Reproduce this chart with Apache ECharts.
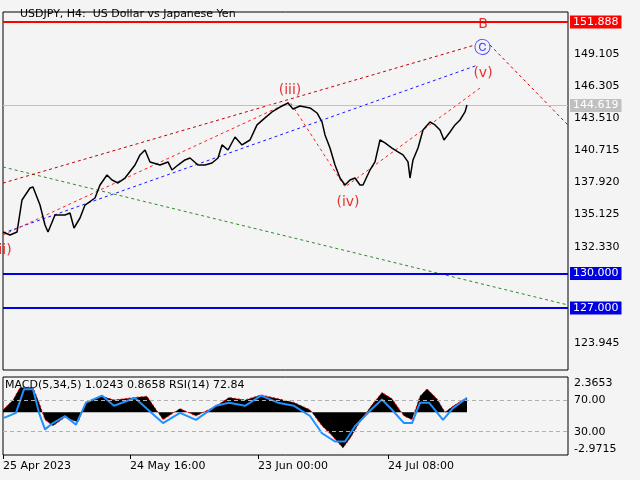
<!DOCTYPE html><html><head><meta charset="utf-8">
<script src="https://cdn.jsdelivr.net/npm/echarts@6/dist/echarts.min.js"></script>
<style>body{margin:0;background:#f4f4f4}#c{width:640px;height:480px}</style></head><body><div id="c"></div>
<script>
const priceIdx=[0,7,14,19,27,30,37,42,45,52,62,67,71,77,82,92,97,104,109,115,122,132,137,142,147,157,165,169,175,182,187,195,202,209,215,219,225,232,239,247,254,262,269,277,285,290,297,307,314,319,322,327,332,337,342,347,352,357,360,367,372,377,382,389,395,400,405,407,410,415,420,427,432,437,441,447,452,457,462,464];
const priceVal=[133.61,133.35,133.61,136.40,137.44,137.53,135.96,134.22,133.61,135.09,135.09,135.27,133.96,134.83,135.96,136.57,137.70,138.57,138.14,137.88,138.31,139.44,140.32,140.75,139.71,139.44,139.71,139.01,139.44,139.88,140.05,139.44,139.44,139.62,140.05,141.19,140.75,141.88,141.19,141.62,142.93,143.54,144.06,144.49,144.84,144.32,144.58,144.41,143.97,143.19,142.06,140.92,139.44,138.31,137.70,138.14,138.31,137.70,137.70,139.01,139.71,141.62,141.36,140.92,140.58,140.32,139.71,138.31,139.88,140.92,142.49,143.19,142.93,142.49,141.62,142.32,142.93,143.36,144.06,144.67];
const macdIdx=[0,10,17,30,36,42,50,62,75,83,99,111,132,144,160,177,193,213,226,242,258,275,291,307,319,328,340,348,356,368,379,389,401,409,417,424,434,442,450,464];
const macdVal=[0.2,1.0,2.0,2.0,0.8,-0.6,-1.1,-0.4,-0.8,0.8,1.3,1.0,1.2,1.3,-0.6,0.3,-0.3,0.5,1.2,1.0,1.4,1.1,0.8,0.2,-1.1,-1.8,-2.9,-2.0,-0.9,0.5,1.6,1.1,-0.3,-0.6,1.3,1.9,1.1,0.0,0.5,1.2];
const rsiIdx=[1,13,21,30,36,42,50,62,73,83,99,111,132,152,160,177,193,213,226,242,258,275,291,307,319,332,342,352,368,379,389,401,409,417,426,440,450,464];
const rsiVal=[47.6,54,84,84,54,33,41,50,39,67,76,63,73,50,41,54,45,63,67,63,76,67,63,50,28,17.5,17.5,37,58,71,58,41,41,67,67,45,60,73];
const xTickIdx=[0,127,255,385];
const xTickLabels=['25 Apr 2023','24 May 16:00','23 Jun 00:00','24 Jul 08:00'];
const yTicks=[123.945,127.000,130.000,132.330,135.125,137.920,140.715,143.510,146.305,149.105,151.888];
const levelRed=151.888, levelBlue=[130.000,127.000], lastPrice=144.619;
const upperRed=[[0,137.87],[472,149.89]];
const blueTrend=[[0,133.52],[475,148.15]];
const waveLine=[[0,133.35],[287,144.93],[342,137.53],[477,146.14]];
const bDown=[[487,149.89],[565,142.92]];
const greenTrend=[[0,139.27],[565,127.26]];
const waveLabels=[['(iii)',287,145.9,'#e00000'],['(iv)',345,136.2,'#e00000'],['(v)',480,147.4,'#e00000'],['ii)',2,132.0,'#e00000'],['B',480,151.7,'#e00000'],['ⓒ',479,149.6,'#1a1aff']];
const rsiLevels=[70,30], macdScale=[2.3653,-2.9715];

const F='DejaVu Sans';
const seg=(pts,color,w)=>({type:'line',xAxisIndex:0,yAxisIndex:0,data:pts,symbol:'none',silent:true,lineStyle:{color:color,width:w||1,type:[3,3]},z:3});
const hl=(v,color,w,bg)=>({yAxis:v,lineStyle:{color:color,width:w,type:'solid'},label:{show:true,position:'end',formatter:v.toFixed(3),color:'#fff',backgroundColor:bg,padding:[1,3],fontFamily:F,fontSize:11,distance:2}});
const yAx=(grid,min,max,vals,fmt)=>({gridIndex:grid,type:'value',position:'right',min:min,max:max,splitLine:{show:false},
  axisLine:{show:false,onZero:false},axisTick:{show:false},
  axisLabel:{customValues:vals,formatter:fmt,color:'#000',fontFamily:F,fontSize:11,margin:6}});
const chart=echarts.init(document.getElementById('c'));
chart.setOption({
 backgroundColor:'#f4f4f4',animation:false,
 title:{text:'USDJPY, H4:  US Dollar vs Japanese Yen',left:15,top:4,textStyle:{fontFamily:F,fontSize:11,fontWeight:'normal',color:'#000'}},
 grid:[{left:3,right:72,top:12,height:358,show:true,borderColor:'#000',borderWidth:1,backgroundColor:'#f4f4f4'},
       {left:3,right:72,top:377,height:78,show:true,borderColor:'#000',borderWidth:1,backgroundColor:'#f4f4f4'}],
 xAxis:[{gridIndex:0,type:'value',min:0,max:565,axisLine:{show:false,onZero:false},axisTick:{show:false},axisLabel:{show:false},splitLine:{show:false}},
        {gridIndex:1,type:'value',min:0,max:565,axisLine:{show:false,onZero:false},splitLine:{show:false},
         axisTick:{show:true,customValues:xTickIdx,length:4,lineStyle:{color:'#000'}},
         axisLabel:{customValues:xTickIdx,formatter:v=>xTickLabels[xTickIdx.indexOf(v)],align:'left',color:'#000',fontFamily:F,fontSize:11,margin:6}}],
 yAxis:[yAx(0,121.6,152.76,yTicks,v=>v.toFixed(3)),
        yAx(1,0.3,99.7,rsiLevels,v=>v.toFixed(2)),
        yAx(1,-3.464,2.858,macdScale,v=>v.toFixed(4))],
 series:[
  seg(greenTrend,'#2a8a2a'),seg(upperRed,'#c00000'),seg(blueTrend,'#1a1aff'),seg(waveLine,'#ff2020'),seg(bDown,'#d00000'),
  {type:'line',xAxisIndex:0,yAxisIndex:0,data:priceIdx.map((x,i)=>[x,priceVal[i]]),symbol:'none',lineStyle:{color:'#000',width:1.5},z:5,
   markLine:{symbol:'none',silent:true,data:[hl(lastPrice,'#c0c0c0',1,'#c0c0c0'),hl(levelRed,'#ff0000',2,'#ff0000'),hl(levelBlue[0],'#0000e0',2,'#0000e0'),hl(levelBlue[1],'#0000e0',2,'#0000e0')]}},
  {type:'scatter',xAxisIndex:0,yAxisIndex:0,symbolSize:0,data:waveLabels.map(l=>({value:[l[1],l[2]],label:{show:true,formatter:l[0],color:l[3],fontSize:l[0]==='ⓒ'?17:14,fontFamily:F,position:'inside'}})),z:6},
  {type:'line',xAxisIndex:1,yAxisIndex:2,data:macdIdx.map((x,i)=>[x,macdVal[i]]),symbol:'none',lineStyle:{color:'#ff0000',width:1,type:[2,2]},areaStyle:{color:'#000',opacity:1,origin:0},z:2},
  {type:'line',xAxisIndex:1,yAxisIndex:1,data:rsiIdx.map((x,i)=>[x,rsiVal[i]]),symbol:'none',lineStyle:{color:'#1e90ff',width:2},z:4,
   markLine:{symbol:'none',silent:true,label:{show:false},lineStyle:{color:'#b0b0b0',type:[4,3],width:1},data:rsiLevels.map(v=>({yAxis:v}))}}
 ],
 graphic:[{type:'text',left:5,top:380,style:{text:'MACD(5,34,5) 1.0243 0.8658 RSI(14) 72.84',font:'11px "DejaVu Sans"',fill:'#000'}}]
});
</script></body></html>
